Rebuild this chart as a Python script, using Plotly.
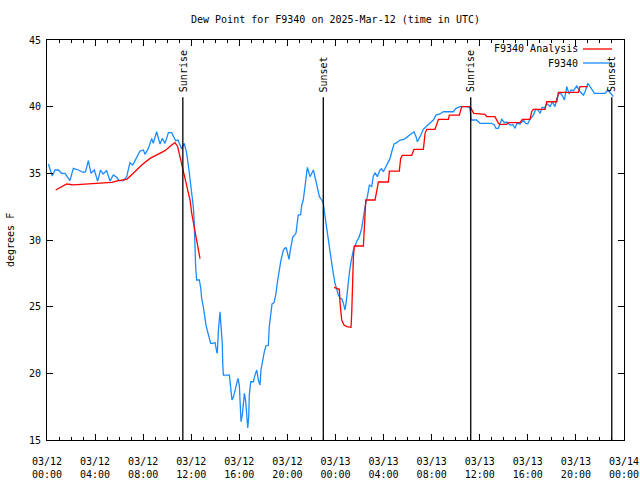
import pandas as pd
import plotly.graph_objects as go

# ---------------- data (hours after 2025-03-12 00:00 UTC, degrees F) ----------------
BASE = "2025-03-12 00:00"

BLUE_H = [0.12, 0.44, 0.67, 0.94, 1.22, 1.5, 1.91, 2.19, 2.6, 3.02, 3.2, 3.44, 3.66, 3.94,
          4.21, 4.46, 4.66, 4.96, 5.24, 5.52, 5.8, 5.99, 6.35, 6.63, 6.9, 7.13, 7.38, 7.74,
          8.02, 8.15, 8.43, 8.71, 8.84, 9.12, 9.4, 9.59, 9.82, 10.1, 10.37, 10.7, 10.9, 11.2,
          11.42, 11.62, 11.81, 11.92, 12.04, 12.17, 12.24, 12.3, 12.37, 12.45, 12.67, 12.79,
          12.87, 13.0, 13.08, 13.23, 13.37, 13.5, 13.62, 13.78, 13.98, 14.12, 14.17, 14.25,
          14.33, 14.39, 14.48, 14.58, 14.62, 14.67, 15.17, 15.28, 15.39, 15.5, 15.64, 15.78,
          15.89, 16.0, 16.06, 16.14, 16.25, 16.33, 16.42, 16.53, 16.61, 16.7, 16.78, 16.83,
          16.95, 17.17, 17.3, 17.45, 17.58, 17.72, 17.8, 17.94, 18.08, 18.22, 18.41, 18.49,
          18.61, 18.72, 18.89, 19.05, 19.16, 19.27, 19.44, 19.66, 19.8, 19.91, 20.13, 20.27,
          20.44, 20.71, 20.82, 20.9, 21.1, 21.19, 21.32, 21.38, 21.52, 21.66, 21.88, 22.0,
          22.16, 22.35, 22.49, 22.66, 22.85, 22.99, 23.13, 23.32, 23.49, 23.63, 23.77, 23.96,
          24.1, 24.24, 24.38, 24.52, 24.66, 24.79, 24.88, 24.98, 25.15, 25.29, 25.49, 25.76,
          25.98, 26.18, 26.32, 26.46, 26.65, 26.82, 27.01, 27.15, 27.29, 27.48, 27.7, 27.84,
          27.98, 28.26, 28.4, 28.54, 28.68, 28.87, 29.1, 29.37, 29.7, 29.98, 30.2, 30.53,
          30.7, 30.81, 31.03, 31.31, 31.59, 31.86, 32.14, 32.36, 32.7, 32.97, 33.8, 34.03,
          34.36, 34.91, 35.13, 35.2, 35.28, 35.74, 36.02, 37.0, 37.2, 37.35, 37.55, 37.69,
          37.83, 38.05, 38.25, 38.52, 38.75, 38.94, 39.08, 39.35, 39.63, 39.82, 40.0, 40.18,
          40.46, 40.66, 40.85, 41.02, 41.2, 41.4, 41.57, 41.85, 42.04, 42.26, 42.41, 42.6,
          42.8, 43.04, 43.24, 43.44, 43.6, 43.8, 44.07, 44.35, 44.63, 44.75, 45.0, 45.18,
          45.54, 46.43, 46.65, 46.8, 46.98, 47.12]
BLUE_V = [35.7, 34.8, 35.25, 35.25, 35.0, 35.0, 34.45, 35.37, 35.25, 35.08, 35.1, 35.95, 35.0, 35.25,
          34.42, 35.25, 34.95, 35.2, 34.42, 34.88, 34.7, 34.45, 34.45, 34.75, 35.8, 35.62, 36.05, 36.67,
          36.75, 36.42, 36.87, 37.62, 37.25, 38.12, 37.2, 37.62, 37.25, 38.05, 38.05, 37.45, 37.5, 36.82,
          37.25, 36.5, 35.25, 34.5, 33.4, 32.5, 31.5, 29.5, 27.9, 27.0, 27.0, 26.4,
          25.6, 25.0, 24.37, 23.6, 23.1, 22.75, 22.25, 22.25, 22.3, 21.62, 21.5, 23.1,
          24.12, 24.62, 23.5, 22.25, 20.75, 19.87, 19.87, 18.87, 18.0, 18.2, 18.75, 19.12,
          19.62, 19.1, 18.0, 16.37, 16.9, 18.0, 18.5, 17.9, 16.5, 15.9, 16.75, 18.37,
          19.37, 19.37, 19.87, 20.25, 19.5, 19.12, 20.25, 21.0, 21.62, 22.07, 22.1, 23.5,
          24.5, 25.2, 25.3, 26.0, 26.8, 27.5, 28.37, 29.25, 29.4, 29.4, 28.55, 29.37,
          30.2, 30.5, 31.5, 31.87, 31.9, 32.62, 33.0, 33.37, 34.5, 35.45, 34.75, 35.0,
          35.25, 34.5, 33.87, 33.25, 33.0, 32.75, 31.75, 30.5, 29.5, 28.5, 27.75, 26.75,
          26.25, 25.87, 25.62, 25.6, 25.25, 24.75, 25.25, 26.25, 27.5, 28.37, 29.25, 29.87,
          30.25, 30.87, 31.75, 32.5, 33.25, 34.12, 34.0, 34.8, 35.05, 34.75, 35.25, 35.35,
          35.12, 35.62, 35.87, 36.12, 36.62, 37.2, 37.3, 37.5, 37.55, 37.75, 37.92, 38.12,
          37.75, 37.37, 37.75, 38.3, 38.55, 38.75, 39.0, 39.37, 39.45, 39.62, 39.62, 39.87,
          40.0, 40.0, 39.95, 39.75, 39.0, 39.0, 38.75, 38.75, 38.65, 38.37, 38.37, 38.75,
          39.05, 38.8, 38.85, 38.62, 38.65, 38.37, 38.75, 38.7, 39.0, 38.75, 38.72, 39.05,
          39.37, 39.8, 39.75, 39.5, 39.95, 39.9, 40.25, 40.0, 40.37, 40.0, 40.62, 41.0,
          40.95, 40.5, 41.5, 40.95, 41.25, 41.2, 41.55, 41.12, 40.87, 41.1, 41.75, 41.5,
          41.0, 41.0, 41.25, 41.1, 40.87, 40.75]

RED1_H = [0.72, 1.22, 1.64, 2.19, 3.16, 4.83, 5.38, 5.93, 6.63, 7.18, 7.88, 8.57, 9.26, 9.82,
          10.37, 10.65, 10.87, 11.06, 11.34, 11.62, 11.9, 12.04, 12.26, 12.45, 12.73]
RED1_V = [33.75, 34.0, 34.2, 34.14, 34.2, 34.25, 34.32, 34.45, 34.55, 35.0, 35.62, 36.12, 36.45, 36.7,
          37.12, 37.3, 37.0, 36.25, 35.0, 34.0, 33.0, 32.0, 31.0, 29.87, 28.6]

RED2_H = [23.88, 24.32, 24.38, 24.52, 24.71, 24.93, 25.29, 25.35, 25.49, 25.57, 26.32, 26.4, 26.52,
          27.29, 27.43, 27.57, 28.4, 28.48, 29.31, 29.42, 29.56, 30.34, 30.53, 31.31, 31.45,
          31.59, 32.28, 32.42, 32.56, 33.39, 33.47, 34.3, 34.5, 35.2, 35.5, 36.44, 36.58,
          37.27, 37.55, 37.69, 38.24, 38.38, 39.35, 39.55, 40.18, 40.32, 40.46, 41.43, 41.57,
          42.41, 42.54, 44.2, 44.34, 45.0]
RED2_V = [26.45, 26.3, 25.25, 24.0, 23.62, 23.5, 23.45, 24.5, 28.75, 29.55, 29.55, 31.25, 33.0,
          33.0, 33.62, 34.35, 34.35, 35.17, 35.17, 36.12, 36.35, 36.35, 36.8, 36.8, 38.0,
          38.3, 38.3, 38.75, 39.05, 39.05, 39.37, 39.37, 40.0, 40.0, 39.5, 39.42, 39.25,
          39.25, 38.75, 38.67, 38.67, 38.8, 38.8, 39.05, 39.05, 39.62, 39.8, 39.8, 40.37,
          40.37, 41.07, 41.07, 41.5, 41.5]

EVENT_LABELS = ["Sunrise", "Sunset", "Sunrise", "Sunset"]
EVENT_TIMES = ["2025-03-12 11:18", "2025-03-12 22:59", "2025-03-13 11:15", "2025-03-13 22:59"]

X_RANGE = ["2025-03-12 00:00", "2025-03-14 00:00"]
X_TICK_STEP_HOURS = 4
X_MINOR_STEP_HOURS = 1
X_TICK_FORMAT = "%m/%d<br>%H:%M"
Y_TICK_VALS = [15, 20, 25, 30, 35, 40, 45]

TITLE = "Dew Point for F9340 on 2025-Mar-12 (time in UTC)"
SERIES_NAMES = ["F9340 Analysis", "F9340"]
SERIES_COLORS = ["#ff0000", "#1a8cff"]

# ---------------- build ----------------
base = pd.Timestamp(BASE)
def to_time(hours):
    return base + pd.to_timedelta(hours, unit="h")

FONT = "DejaVu Sans Mono"
fig = go.Figure()

fig.add_trace(go.Scatter(x=to_time(BLUE_H), y=BLUE_V, mode="lines",
                         line=dict(color=SERIES_COLORS[1], width=1.3),
                         name=SERIES_NAMES[1], showlegend=False))
for hh, vv in ((RED1_H, RED1_V), (RED2_H, RED2_V)):
    fig.add_trace(go.Scatter(x=to_time(hh), y=vv, mode="lines",
                             line=dict(color=SERIES_COLORS[0], width=1.3),
                             name=SERIES_NAMES[0], showlegend=False))

# event lines + labels
for lab, t in zip(EVENT_LABELS, EVENT_TIMES):
    fig.add_shape(type="line", xref="x", yref="y", x0=t, x1=t, y0=15, y1=40.7,
                  line=dict(color="black", width=1.3))
    fig.add_annotation(x=t, y=41.0, xref="x", yref="y", text=lab, textangle=-90,
                       showarrow=False, xanchor="center", yanchor="bottom",
                       font=dict(family=FONT, size=10, color="black"), borderpad=0)

# custom legend (text right-aligned, sample line at right)
PW = 577.0
PH = 400.0
leg_y = [(440 - 49) / PH, (440 - 63) / PH]
for i, (nm, col) in enumerate(zip(SERIES_NAMES, SERIES_COLORS)):
    fig.add_annotation(x=(579 - 47) / PW, y=leg_y[i], xref="paper", yref="paper", text=nm,
                       showarrow=False, xanchor="right", yanchor="middle",
                       font=dict(family=FONT, size=10, color="black"), borderpad=0)
    fig.add_shape(type="line", xref="paper", yref="paper",
                  x0=(583 - 47) / PW, x1=(612 - 47) / PW, y0=leg_y[i], y1=leg_y[i],
                  line=dict(color=col, width=1.3))

# y axis label
fig.add_annotation(x=(10 - 47) / PW, y=0.5, xref="paper", yref="paper", text="degrees F",
                   textangle=-90, showarrow=False, xanchor="center", yanchor="middle",
                   font=dict(family=FONT, size=10, color="black"))

fig.update_layout(
    width=640, height=480,
    margin=dict(l=47, r=16, t=40, b=40, autoexpand=False),
    paper_bgcolor="white", plot_bgcolor="white",
    font=dict(family=FONT, size=10, color="black"),
    title=dict(text=TITLE, x=0.5, xref="paper", xanchor="center",
               y=1 - 19 / 480, yref="container", yanchor="middle",
               font=dict(family=FONT, size=10, color="black")),
    showlegend=False,
)
fig.update_xaxes(type="date", range=X_RANGE, automargin=False,
                 tickmode="linear", tick0=X_RANGE[0], dtick=X_TICK_STEP_HOURS * 3600000,
                 tickformat=X_TICK_FORMAT, ticklabelstandoff=12,
                 ticks="inside", ticklen=6, tickcolor="black", tickwidth=1,
                 showline=True, linecolor="black", linewidth=1, mirror="allticks",
                 showgrid=False, zeroline=False,
                 minor=dict(tick0=X_RANGE[0], dtick=X_MINOR_STEP_HOURS * 3600000,
                            ticks="inside", ticklen=3, tickcolor="black", tickwidth=1,
                            showgrid=False))
fig.update_yaxes(range=[15, 45], tickmode="array", tickvals=Y_TICK_VALS, automargin=False,
                 ticks="inside", ticklen=6, tickcolor="black", tickwidth=1,
                 ticklabelstandoff=3,
                 showline=True, linecolor="black", linewidth=1, mirror="allticks",
                 showgrid=False, zeroline=False)

fig.write_html("out.html", config={"displayModeBar": False, "staticPlot": True},
               post_script="document.body.style.margin='0px';")
